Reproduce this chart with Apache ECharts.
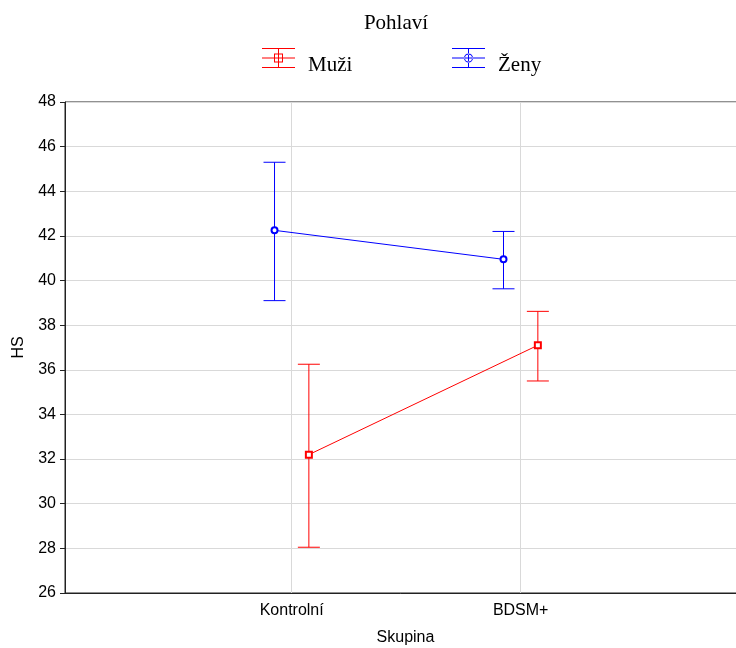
<!DOCTYPE html>
<html>
<head>
<meta charset="utf-8">
<script src="https://cdn.jsdelivr.net/npm/echarts@6/dist/echarts.min.js"></script>
<style>
  html, body { margin: 0; padding: 0; background: #fff; }
  #chart { width: 736px; height: 648px; }
</style>
</head>
<body>
<div id="chart"></div>
<script>
// data
var categories = ['Kontrolní', 'BDSM+'];
var yTicks = [26, 28, 30, 32, 34, 36, 38, 40, 42, 44, 46, 48];

var muziMean = [32.2, 37.1];
var muziLow = [28.05, 35.5];
var muziHigh = [36.25, 38.62];

var zenyMean = [42.25, 40.95];
var zenyLow = [39.1, 39.63];
var zenyHigh = [45.3, 42.2];

var RED = '#ff0000';
var BLUE = '#0000ff';
var SHIFT = 0.075; // groups are drawn a little apart around each category

// legend glyph: three bars + stem + marker
var bars = 'M0 0H33V1H0Z M0 9.5H33V10.5H0Z M0 19H33V20H0Z M16 0H17V20H16Z ';
var iconSquare = 'path://' + bars + 'M12 5.5H21V6.5H12Z M12 13.5H21V14.5H12Z M12 5.5H13V14.5H12Z M20 5.5H21V14.5H20Z';
var iconCircle = 'path://' + bars + 'M21 10A4.5 4.5 0 1 0 12 10A4.5 4.5 0 1 0 21 10Z M20 10A3.5 3.5 0 1 1 13 10A3.5 3.5 0 1 1 20 10Z';

function points(mean, shift) {
    return mean.map(function (v, i) { return [i + 1 + shift, v]; });
}
function bars4(low, high, shift) {
    return low.map(function (v, i) { return [i + 1 + shift, v, high[i]]; });
}

function errorBar(color) {
    return function (params, api) {
        var lo = api.coord([api.value(0), api.value(1)]);
        var hi = api.coord([api.value(0), api.value(2)]);
        var half = 11;
        var st = { stroke: color, lineWidth: 1 };
        return {
            type: 'group',
            children: [
                { type: 'line', shape: { x1: lo[0], y1: lo[1], x2: hi[0], y2: hi[1] }, style: st },
                { type: 'line', shape: { x1: lo[0] - half, y1: lo[1], x2: lo[0] + half, y2: lo[1] }, style: st },
                { type: 'line', shape: { x1: hi[0] - half, y1: hi[1], x2: hi[0] + half, y2: hi[1] }, style: st }
            ]
        };
    };
}

var chart = echarts.init(document.getElementById('chart'));
var tickFont = { fontFamily: 'Liberation Sans', fontSize: 16, color: '#000' };
var legendText = {
    fontFamily: 'Liberation Serif', fontSize: 21, color: '#000',
    rich: { t: { fontFamily: 'Liberation Serif', fontSize: 21, color: '#000', padding: [14, 0, 0, 8] } }
};

chart.setOption({
    animation: false,
    title: {
        text: 'Pohlaví',
        left: 391,
        textAlign: 'center',
        top: 8,
        textStyle: { fontFamily: 'Liberation Serif', fontWeight: 'normal', fontSize: 21, color: '#000' }
    },
    legend: [{
        left: 262, top: 48, padding: 0,
        itemWidth: 33, itemHeight: 20,
        data: [{ name: 'Muži', icon: iconSquare }],
        formatter: '{t|{name}}',
        itemStyle: { color: RED, borderWidth: 0 },
        lineStyle: { width: 0 },
        textStyle: legendText
    }, {
        left: 452, top: 48, padding: 0,
        itemWidth: 33, itemHeight: 20,
        data: [{ name: 'Ženy', icon: iconCircle }],
        formatter: '{t|{name}}',
        itemStyle: { color: BLUE, borderWidth: 0 },
        lineStyle: { width: 0 },
        textStyle: legendText
    }],
    grid: {
        left: 65, top: 102, width: 681, bottom: 55,
        outerBoundsMode: 'none',
        show: true, borderColor: '#222', borderWidth: 1
    },
    xAxis: {
        type: 'value',
        min: 0.01,
        max: 2.984,
        name: 'Skupina',
        nameLocation: 'middle',
        nameGap: 37,
        nameTextStyle: { fontFamily: 'Liberation Sans', fontSize: 16, color: '#000' },
        axisLine: { show: true, lineStyle: { color: '#222' } },
        axisTick: { show: false, customValues: [1, 2] },
        axisLabel: {
            customValues: [1, 2],
            margin: 10,
            formatter: function (v) { return categories[Math.round(v) - 1]; },
            fontFamily: 'Liberation Sans', fontSize: 16, color: '#000'
        },
        splitLine: { show: true, lineStyle: { color: '#d9d9d9' } }
    },
    yAxis: {
        type: 'value',
        min: yTicks[0],
        max: yTicks[yTicks.length - 1],
        interval: 2,
        name: 'HS',
        nameLocation: 'middle',
        nameGap: 38,
        nameTextStyle: { fontFamily: 'Liberation Sans', fontSize: 16, color: '#000' },
        axisLine: { show: true, lineStyle: { color: '#222' } },
        axisTick: { show: true, length: 5, lineStyle: { color: '#222' } },
        axisLabel: Object.assign({ margin: 9 }, tickFont),
        splitLine: { show: true, lineStyle: { color: '#d9d9d9' } }
    },
    series: [{
        name: 'Muži',
        type: 'custom',
        renderItem: errorBar(RED),
        data: bars4(muziLow, muziHigh, SHIFT),
        z: 3
    }, {
        name: 'Ženy',
        type: 'custom',
        renderItem: errorBar(BLUE),
        data: bars4(zenyLow, zenyHigh, -SHIFT),
        z: 3
    }, {
        name: 'Muži',
        type: 'line',
        data: points(muziMean, SHIFT),
        symbol: 'emptyRect',
        symbolSize: 6,
        itemStyle: { color: RED, borderWidth: 1 },
        lineStyle: { color: RED, width: 1 },
        z: 4
    }, {
        name: 'Ženy',
        type: 'line',
        data: points(zenyMean, -SHIFT),
        symbol: 'emptyCircle',
        symbolSize: 6,
        itemStyle: { color: BLUE, borderWidth: 1 },
        lineStyle: { color: BLUE, width: 1 },
        z: 4
    }]
});
</script>
</body>
</html>
